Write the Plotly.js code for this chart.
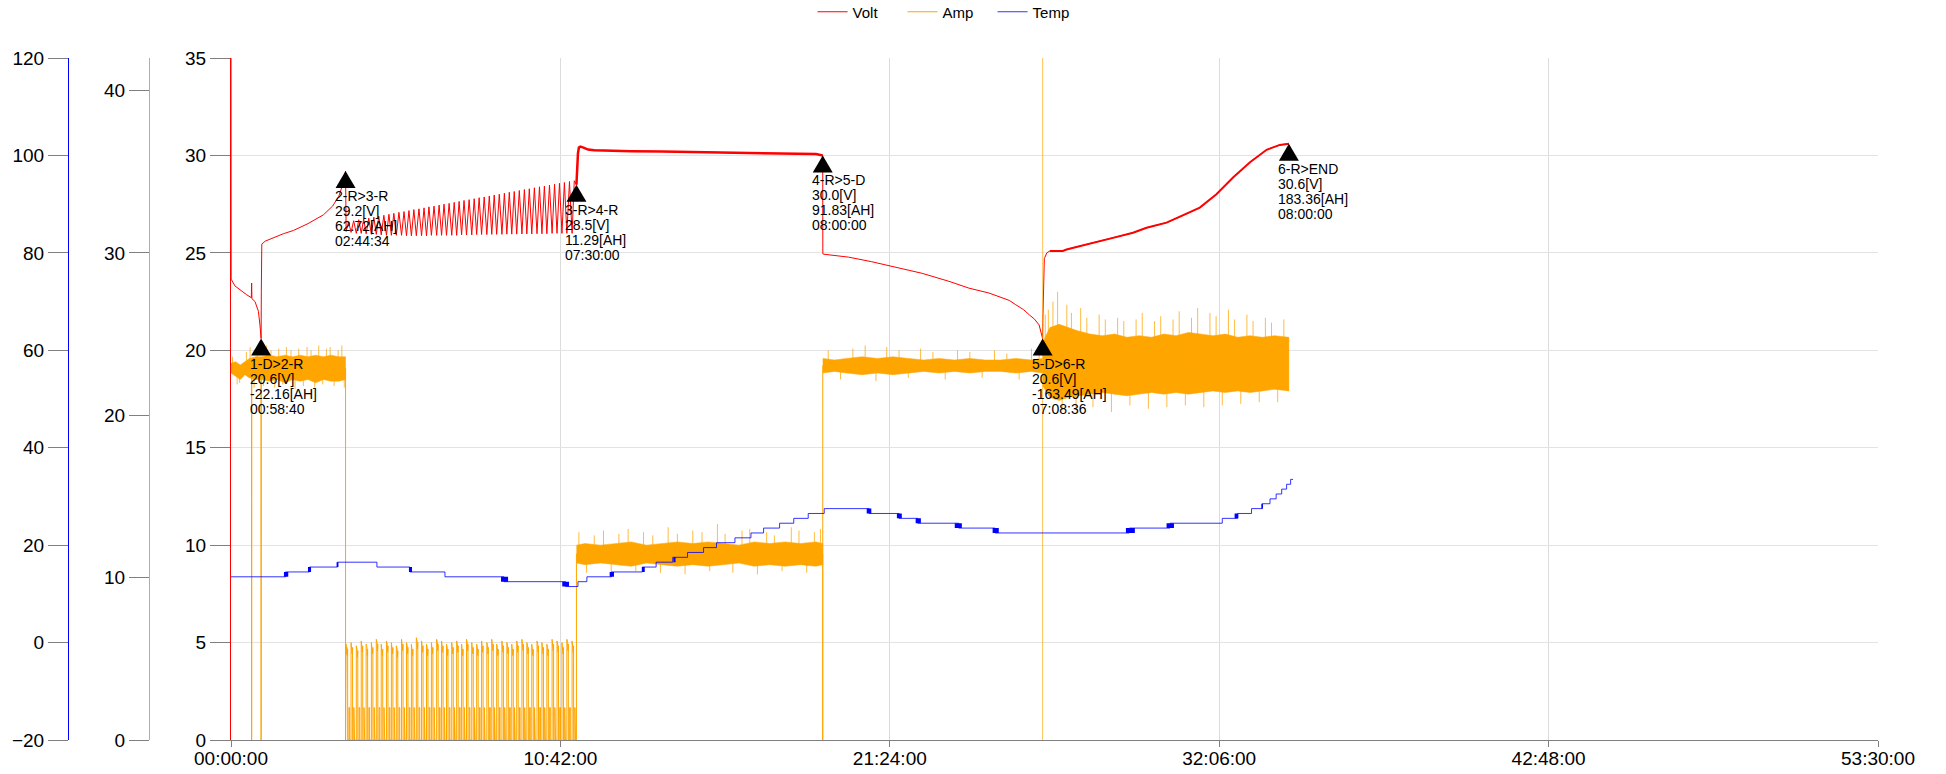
<!DOCTYPE html>
<html><head><meta charset="utf-8">
<script src="https://cdn.plot.ly/plotly-3.0.1.min.js"></script>
<style>html,body{margin:0;padding:0;background:#fff}#chart{width:1946px;height:774px}</style>
</head><body><div id="chart"></div>
<script>
// ---------------- DATA (hours since start) ----------------
const stepEnds = [0.978, 3.721, 11.221, 19.221, 26.364, 34.364];
const markerV  = [20.6, 29.2, 28.5, 30.0, 20.6, 30.6];
const markerName = ['1-D>2-R','2-R>3-R','3-R>4-R','4-R>5-D','5-D>6-R','6-R>END'];
const markerVolt = ['20.6[V]','29.2[V]','28.5[V]','30.0[V]','20.6[V]','30.6[V]'];
const markerAh   = ['-22.16[AH]','62.72[AH]','11.29[AH]','91.83[AH]','-163.49[AH]','183.36[AH]'];
const markerDur  = ['00:58:40','02:44:34','07:30:00','08:00:00','07:08:36','08:00:00'];

const xTickVals = [0, 10.7, 21.4, 32.1, 42.8, 53.5];
const xTickText = ['00:00:00','10:42:00','21:24:00','32:06:00','42:48:00','53:30:00'];

// Volt
const v1T = [0, 0.005, 0.13, 0.29, 0.51, 0.66, 0.67, 0.68, 0.78, 0.89, 0.94, 0.978];
const v1V = [35, 23.65, 23.3, 23.1, 22.85, 22.7, 23.45, 22.65, 22.5, 22.0, 21.3, 20.6];
const v2T = [0.985, 0.99, 1.0, 1.11, 1.38, 1.70, 2.03, 2.5, 3.0, 3.3, 3.5, 3.65, 3.721];
const v2V = [23.0, 24.6, 25.45, 25.6, 25.78, 25.98, 26.15, 26.5, 26.95, 27.4, 27.9, 28.6, 29.2];
// step 3 pulse-charge oscillation: one trough / peak per current pulse
const v3Trough = [26.1,26.05,26.0,26.0,25.98,25.95,25.95,25.92,25.9,25.9,25.9,25.9,25.88,25.88,25.88,25.88,25.88,25.9,25.9,25.9,25.9,25.9,25.9,25.92,25.92,25.92,25.94,25.94,25.94,25.95,25.95,25.95,25.96,25.96,25.96,25.97,25.97,25.97,25.98,25.98,25.98,26.0,26.0,26.0,26.0,26.0];
const v3Peak   = [26.6,26.65,26.7,26.74,26.78,26.83,26.88,26.93,26.98,27.03,27.08,27.12,27.17,27.22,27.26,27.31,27.36,27.4,27.45,27.5,27.54,27.59,27.64,27.69,27.73,27.78,27.83,27.87,27.92,27.97,28.01,28.06,28.11,28.15,28.2,28.25,28.29,28.34,28.39,28.43,28.48,28.52,28.57,28.61,28.66,28.7];
const v4T = [11.221, 11.24, 11.27, 11.30, 11.35, 11.45, 11.6, 11.8, 12.2, 13, 14, 15, 16, 17, 18, 19.0, 19.221];
const v4V = [28.5, 29.3, 30.1, 30.4, 30.45, 30.4, 30.3, 30.27, 30.25, 30.22, 30.2, 30.18, 30.16, 30.13, 30.1, 30.07, 30.0];
const v5T = [19.225, 19.26, 19.6, 20.06, 20.8, 21.47, 22.45, 23.32, 23.97, 24.62, 25.06, 25.28, 25.49, 25.75, 25.93, 26.1, 26.25, 26.364];
const v5V = [24.95, 24.93, 24.86, 24.78, 24.55, 24.31, 23.95, 23.54, 23.19, 22.94, 22.68, 22.56, 22.34, 22.08, 21.82, 21.6, 21.3, 20.6];
const v6T = [26.37, 26.39, 26.42, 26.5, 26.6, 27.02, 27.14, 27.57, 28.22, 28.65, 29.3, 29.74, 30.39, 30.82, 31.47, 32.01, 32.55, 33.1, 33.64, 34.07, 34.364];
const v6V = [21.5, 23.5, 24.7, 25.0, 25.1, 25.1, 25.17, 25.35, 25.6, 25.77, 26.03, 26.29, 26.55, 26.84, 27.32, 28.01, 28.87, 29.65, 30.29, 30.54, 30.6];

// Amp: step levels and transitions
const ampT = [0, 0.67, 0.67, 0.672, 0.978, 0.978, 0.98, 3.721, 3.721];
const ampV = [22.9, 22.9, 0, 22.9, 22.9, 0, 22.9, 22.9, 0];
const ampT2 = [11.221, 11.221, 19.221, 19.221, 19.223, 26.362];
const ampV2 = [0, 11.45, 11.45, 0, 23.05, 23.05];
const ampSpikeT = [26.362, 26.363, 26.365, 26.367];
const ampSpikeV = [23.05, -5, 60, 23.0];
const ampT3 = [26.367, 34.364];
const ampV3 = [23.0, 23.0];
// step 3 current pulses
const pulseT = [3.74,3.90,4.07,4.23,4.39,4.56,4.72,4.88,5.05,5.21,5.37,5.54,5.70,5.86,6.02,6.19,6.35,6.51,6.68,6.84,7.00,7.17,7.33,7.49,7.65,7.82,7.98,8.14,8.31,8.47,8.63,8.80,8.96,9.12,9.28,9.45,9.61,9.77,9.94,10.10,10.26,10.43,10.59,10.75,10.91,11.08];
const pulsePeak = [5.9,6.0,5.8,6.1,5.9,6.0,6.2,5.9,6.1,6.0,5.8,6.2,6.0,5.9,6.3,6.1,5.9,6.0,6.2,6.1,5.9,6.0,6.1,5.9,6.2,6.0,5.9,6.1,6.0,6.2,5.9,6.1,6.0,5.9,6.1,6.2,6.0,5.9,6.1,6.0,5.9,6.2,6.1,6.0,6.2,6.1];
const pulseLow = 2.0;
// dense noise bands: core envelope
const cAT = [0, 0.15, 0.3, 0.45, 0.6, 0.8, 1.0, 1.25, 1.5, 1.75, 2.0, 2.25, 2.5, 2.75, 3.0, 3.25, 3.5, 3.721];
const cAH = [23.2, 23.3, 23.1, 23.3, 23.5, 23.6, 23.6, 23.7, 23.6, 23.7, 23.6, 23.7, 23.6, 23.7, 23.6, 23.7, 23.6, 23.6];
const cAL = [22.6, 22.4, 22.2, 22.5, 22.3, 22.2, 22.2, 22.1, 22.2, 22.0, 22.2, 22.1, 22.2, 22.0, 22.2, 22.1, 22.1, 22.2];
const cBT = [11.221, 11.5, 12, 12.5, 13, 13.5, 14, 14.5, 15, 15.5, 16, 16.5, 17, 17.5, 18, 18.5, 19, 19.221];
const cBH = [12.0, 12.1, 12.0, 12.1, 12.2, 12.0, 12.1, 12.2, 12.1, 12.2, 12.1, 12.0, 12.2, 12.1, 12.2, 12.1, 12.2, 12.1];
const cBL = [10.9, 10.8, 10.9, 10.8, 10.7, 10.9, 10.8, 10.7, 10.8, 10.7, 10.8, 10.9, 10.7, 10.8, 10.7, 10.8, 10.7, 10.8];
const cCT = [19.221, 19.6, 20, 20.5, 21, 21.5, 22, 22.5, 23, 23.5, 24, 24.5, 25, 25.5, 26, 26.364];
const cCH = [23.5, 23.4, 23.5, 23.6, 23.5, 23.6, 23.5, 23.4, 23.5, 23.4, 23.5, 23.4, 23.4, 23.5, 23.4, 23.5];
const cCL = [22.6, 22.7, 22.6, 22.5, 22.6, 22.5, 22.6, 22.7, 22.6, 22.7, 22.6, 22.7, 22.7, 22.6, 22.7, 22.6];
const cDT = [26.37, 26.6, 26.9, 27.2, 27.5, 27.9, 28.3, 28.7, 29.1, 29.5, 29.9, 30.3, 30.7, 31.1, 31.5, 31.9, 32.3, 32.7, 33.1, 33.5, 33.9, 34.364];
const cDH = [24.5, 25.4, 25.6, 25.4, 25.2, 25.0, 24.9, 25.0, 24.8, 24.9, 24.8, 25.0, 24.9, 25.1, 25.0, 24.9, 25.0, 24.8, 24.9, 24.8, 24.9, 24.8];
const cDL = [21.8, 21.1, 20.9, 21.1, 21.2, 21.3, 21.4, 21.3, 21.2, 21.3, 21.4, 21.3, 21.4, 21.3, 21.4, 21.5, 21.4, 21.5, 21.4, 21.5, 21.6, 21.5];
// noise spikes (time, tip value) and band centers
const bandCenter = [22.9, 11.45, 23.05, 23.0];
const sAT = [0.05,0.2,0.28,0.5,0.62,0.75,0.85,1.05,1.15,1.3,1.42,1.55,1.68,1.8,1.95,2.08,2.2,2.35,2.47,2.6,2.72,2.85,2.98,3.1,3.22,3.35,3.48,3.6,3.68];
const sAV = [23.6,21.9,22.0,23.9,24.2,21.7,24.0,21.8,24.3,24.0,21.7,24.1,21.9,24.2,24.0,21.6,24.1,21.8,24.2,24.0,21.7,24.3,21.9,24.1,24.2,21.8,24.0,24.3,21.7];
const sBT = [11.3,11.55,11.8,12.1,12.35,12.6,12.9,13.15,13.4,13.7,13.95,14.2,14.5,14.75,15.0,15.3,15.55,15.8,16.05,16.3,16.6,16.85,17.1,17.4,17.65,17.9,18.2,18.45,18.7,18.95,19.15];
const sBV = [12.8,10.3,12.6,12.9,10.2,12.7,13.0,10.4,12.8,12.6,10.3,13.1,12.7,10.2,12.9,12.8,10.4,13.3,12.7,10.3,12.9,13.0,10.2,12.8,12.6,10.4,13.1,12.9,10.3,12.8,13.0];
const sCT = [19.4,19.8,20.2,20.6,20.95,21.3,21.7,22.0,22.4,22.8,23.2,23.6,24.0,24.4,24.8,25.2,25.6,26.0,26.25];
const sCV = [24.0,22.2,24.1,24.3,22.1,24.2,24.0,22.3,24.1,23.9,22.2,24.0,23.9,22.3,24.0,23.8,22.2,24.1,23.9];
const sDT = [26.45,26.55,26.7,26.85,27.0,27.15,27.3,27.45,27.6,27.8,28.0,28.2,28.4,28.6,28.8,29.0,29.2,29.4,29.6,29.8,30.0,30.2,30.4,30.6,30.8,31.0,31.2,31.4,31.6,31.8,32.0,32.2,32.4,32.6,32.8,33.0,33.2,33.4,33.6,33.8,34.0,34.2];
const sDV = [26.2,26.5,27.0,27.6,20.3,26.8,26.3,20.4,26.6,26.0,20.5,26.2,25.9,20.2,26.0,25.8,20.6,25.9,26.3,20.4,25.8,26.1,20.5,25.9,26.4,20.6,26.0,26.6,20.5,26.3,26.1,20.6,26.5,25.9,20.7,26.2,25.8,20.8,26.0,25.7,20.8,25.9];

// Temp (step changes)
const tempT = [0, 1.77, 2.55, 3.46, 4.74, 5.81, 6.95, 8.87, 10.87, 11.27, 11.56, 12.36, 13.36, 13.81, 14.35, 14.83, 15.35, 15.77, 16.37, 16.89, 17.3, 17.82, 18.28, 18.75, 19.27, 20.73, 21.7, 22.31, 23.64, 24.82, 29.18, 30.5, 32.2, 32.7, 33.15, 33.5, 33.75, 33.95, 34.13, 34.29, 34.42, 34.5];
const tempV = [13.5, 14.5, 15.5, 16.5, 15.5, 14.5, 13.5, 12.5, 11.5, 12.5, 13.5, 14.5, 15.5, 16.5, 17.5, 18.5, 19.5, 20.5, 21.5, 22.5, 23.5, 24.5, 25.5, 26.5, 27.5, 26.5, 25.5, 24.5, 23.5, 22.5, 23.5, 24.5, 25.5, 26.5, 27.5, 28.5, 29.5, 30.5, 31.5, 32.5, 33.5, 33.5];
// flicker blocks on temp line: start, end, low, high
const blkS = [1.72, 2.50, 3.43, 5.78, 8.77, 10.76, 12.30, 13.35, 14.37, 20.65, 21.63, 22.24, 23.51, 24.74, 29.07, 30.39, 32.6, 33.47];
const blkE = [1.86, 2.60, 3.49, 5.88, 9.00, 10.98, 12.44, 13.44, 14.44, 20.80, 21.79, 22.41, 23.74, 24.94, 29.36, 30.63, 32.72, 33.52];
const blkL = [13.5, 14.5, 15.5, 14.5, 12.5, 11.5, 13.5, 14.5, 16.5, 26.5, 25.5, 24.5, 23.5, 22.5, 22.5, 23.5, 25.5, 27.5];
const blkH = [14.5, 15.5, 16.5, 15.5, 13.5, 12.5, 14.5, 15.5, 17.5, 27.5, 26.5, 25.5, 24.5, 23.5, 23.5, 24.5, 26.5, 28.5];

// ---------------- BUILD ----------------
const FONT = '"Liberation Sans", Arial, sans-serif';
const RED = '#ff0000', ORANGE = '#ffa500', BLUE = '#0000ff';

let vx = [].concat(v1T, v2T), vy = [].concat(v1V, v2V);
for (let k = 0; k < pulseT.length; k++) {
  const s = pulseT[k];
  const e = k + 1 < pulseT.length ? pulseT[k + 1] : stepEnds[2];
  vx.push(s, s + (e - s) * 0.5);
  vy.push(v3Trough[k], v3Peak[k]);
}
vx = vx.concat(v4T, v5T, v6T); vy = vy.concat(v4V, v5V, v6V);

let ax = ampT.slice(), ay = ampV.slice();
for (let k = 0; k < pulseT.length; k++) {
  const s = pulseT[k], p = pulsePeak[k];
  ax.push(s, s, s + 0.012, s + 0.024, s + 0.036, s + 0.048, s + 0.05, s + 0.09, s + 0.09, s + 0.112, s + 0.112);
  ay.push(0, p, p - 0.6, p - 0.2, p - 0.7, p - 0.3, 0, 0, pulseLow, pulseLow, 0);
}
ax = ax.concat(ampT2); ay = ay.concat(ampV2);

function poly(t, h, l) {
  return { x: t.concat(t.slice().reverse()), y: h.concat(l.slice().reverse()) };
}
function spikes(t, v, c) {
  const x = [], y = [];
  t.forEach((tt, i) => { x.push(tt, tt, null); y.push(c, v[i], null); });
  return { x, y };
}

const traces = [];
traces.push({ x: vx, y: vy, type: 'scatter', mode: 'lines', name: 'Volt', yaxis: 'y',
  line: { color: RED, width: 1 }, hoverinfo: 'skip' });
traces.push({ x: v4T, y: v4V, type: 'scatter', mode: 'lines', showlegend: false, yaxis: 'y',
  line: { color: RED, width: 2.5 }, hoverinfo: 'skip' });
traces.push({ x: v6T.slice(4), y: v6V.slice(4), type: 'scatter', mode: 'lines', showlegend: false, yaxis: 'y',
  line: { color: RED, width: 2 }, hoverinfo: 'skip' });

traces.push({ x: ax, y: ay, type: 'scatter', mode: 'lines', name: 'Amp', yaxis: 'y2',
  line: { color: ORANGE, width: 1 }, hoverinfo: 'skip' });
traces.push({ x: ampSpikeT, y: ampSpikeV, type: 'scatter', mode: 'lines', showlegend: false, yaxis: 'y2',
  line: { color: 'rgba(255,165,0,0.4)', width: 1 }, hoverinfo: 'skip' });
traces.push({ x: ampT3, y: ampV3, type: 'scatter', mode: 'lines', showlegend: false, yaxis: 'y2',
  line: { color: ORANGE, width: 1 }, hoverinfo: 'skip' });
[[cAT, cAH, cAL], [cBT, cBH, cBL], [cCT, cCH, cCL], [cDT, cDH, cDL]].forEach(b => {
  const p = poly(b[0], b[1], b[2]);
  traces.push({ x: p.x, y: p.y, type: 'scatter', mode: 'lines', fill: 'toself', fillcolor: ORANGE,
    line: { width: 0.5, color: ORANGE }, showlegend: false, yaxis: 'y2', hoverinfo: 'skip' });
});
[[sAT, sAV, 0], [sBT, sBV, 1], [sCT, sCV, 2], [sDT, sDV, 3]].forEach(b => {
  const s = spikes(b[0], b[1], bandCenter[b[2]]);
  traces.push({ x: s.x, y: s.y, type: 'scatter', mode: 'lines', line: { width: 1, color: 'rgba(255,165,0,0.75)' },
    showlegend: false, yaxis: 'y2', hoverinfo: 'skip' });
});

traces.push({ x: tempT, y: tempV, type: 'scatter', mode: 'lines', name: 'Temp', yaxis: 'y3',
  line: { color: 'rgba(0,0,255,0.8)', width: 1, shape: 'hv' }, hoverinfo: 'skip' });
const bx = [], by = [];
blkS.forEach((s, i) => { const e = blkE[i]; bx.push(s, e, e, s, s, null); by.push(blkL[i], blkL[i], blkH[i], blkH[i], blkL[i], null); });
traces.push({ x: bx, y: by, type: 'scatter', mode: 'lines', fill: 'toself', fillcolor: BLUE,
  line: { width: 0, color: BLUE }, showlegend: false, yaxis: 'y3', hoverinfo: 'skip' });

// markers (triangle apex at data point) and labels
const shapes = [], annotations = [];
stepEnds.forEach((t, i) => {
  shapes.push({ type: 'path', xref: 'x', yref: 'y', xsizemode: 'pixel', ysizemode: 'pixel',
    xanchor: t, yanchor: markerV[i], path: 'M -10 -17 L 10 -17 L 0 0 Z',
    fillcolor: '#000', line: { width: 0 } });
  [markerName[i], markerVolt[i], markerAh[i], markerDur[i]].forEach((txt, j) => {
    annotations.push({ x: t, y: markerV[i], xref: 'x', yref: 'y', text: txt, showarrow: false,
      xanchor: 'left', yanchor: 'top', xshift: -12, yshift: -16 - 15 * j,
      font: { family: FONT, size: 14, color: '#000' }, borderpad: 0 });
  });
});

const tickFont = { family: FONT, size: 19, color: '#000' };
const W = 1946, ML = 50, MR = 68, MT = 58, MB = 34;
const pw = W - ML - MR, ph = 774 - MT - MB;
const layout = {
  width: 1946, height: 774,
  margin: { l: ML, r: MR, t: MT, b: MB, autoexpand: false },
  paper_bgcolor: '#fff', plot_bgcolor: '#fff',
  font: { family: FONT },
  showlegend: true,
  legend: { orientation: 'h', x: 0.491, xanchor: 'center', y: 1 + (MT - 12) / ph, yanchor: 'middle',
    entrywidth: 45, entrywidthmode: 'pixels',
    font: { family: FONT, size: 15, color: '#000' }, bgcolor: 'rgba(0,0,0,0)' },
  xaxis: { domain: [(231 - ML) / pw, 1], range: [0, 53.5], tickmode: 'array', tickvals: xTickVals, ticktext: xTickText,
    showgrid: true, gridcolor: '#dcdcdc', gridwidth: 1, showline: true, linecolor: '#808080', linewidth: 1,
    ticks: 'outside', ticklen: 6, tickcolor: '#808080', ticklabelstandoff: -5, zeroline: false, tickfont: tickFont },
  yaxis: { range: [0, 35], tick0: 0, dtick: 5, showline: true, linecolor: RED, linewidth: 1,
    ticks: 'outside', ticklen: 20, tickcolor: '#808080', showgrid: true, gridcolor: '#e3e3e3', zeroline: false,
    tickfont: tickFont },
  yaxis2: { overlaying: 'y', anchor: 'free', position: (149 - ML) / pw, side: 'left', range: [0, 42],
    tickmode: 'array', tickvals: [0, 10, 20, 30, 40], showline: true, linecolor: ORANGE, linewidth: 1,
    ticks: 'outside', ticklen: 20, tickcolor: '#808080', showgrid: false, zeroline: false, tickfont: tickFont },
  yaxis3: { overlaying: 'y', anchor: 'free', position: (68 - ML) / pw, side: 'left', range: [-20, 120],
    tick0: -20, dtick: 20, showline: true, linecolor: BLUE, linewidth: 1,
    ticks: 'outside', ticklen: 20, tickcolor: '#808080', showgrid: false, zeroline: false, tickfont: tickFont },
  shapes, annotations,
  hovermode: false
};
Plotly.newPlot('chart', traces, layout, { staticPlot: true, displayModeBar: false });
</script></body></html>
